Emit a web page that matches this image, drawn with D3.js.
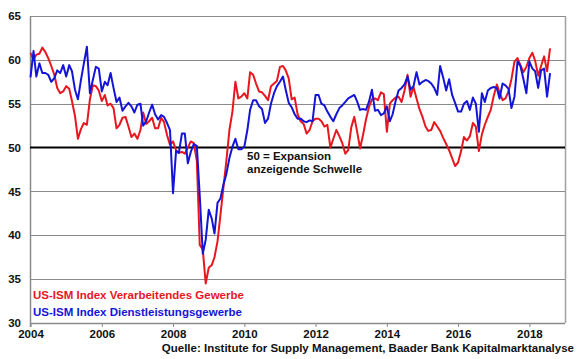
<!DOCTYPE html>
<html><head><meta charset="utf-8">
<script src="https://cdn.jsdelivr.net/npm/d3@7"></script>
<style>
body{margin:0;background:#fff}
text{font-family:"Liberation Sans",Arial,sans-serif;font-weight:bold}
</style>
</head><body>
<svg id="chart" width="580" height="359"></svg>
<script>
// ---- data (monthly, Jan 2004 - Aug 2018) ----
const startYear = 2004;
const manufacturing = [
60.8,60.0,60.6,60.7,61.4,60.9,60.2,59.3,58.3,56.8,56.2,56.4,
57.0,56.7,55.3,53.6,51.0,52.1,52.8,52.6,55.5,57.1,57.0,56.5,
55.3,56.0,54.8,55.0,54.5,52.2,52.6,53.4,53.5,52.4,51.2,51.6,
51.0,52.0,54.0,52.7,53.0,53.4,52.2,52.2,53.4,52.9,51.4,50.3,
50.7,49.7,49.4,49.5,49.3,50.0,50.7,50.5,48.5,38.9,38.4,34.5,
36.3,36.6,37.5,39.3,42.3,45.5,48.5,52.0,54.1,57.5,55.6,55.8,
56.2,55.6,58.6,58.3,57.3,56.4,56.3,55.9,55.4,57.0,57.3,57.6,
59.2,59.3,58.8,57.9,55.5,55.7,53.8,53.0,52.7,51.6,52.0,53.0,
53.3,53.3,53.0,52.4,52.6,50.0,51.0,52.0,51.3,50.5,49.3,49.7,
52.3,53.5,51.9,49.9,51.4,53.2,54.6,55.5,55.6,55.4,56.3,56.1,
51.8,55.0,55.4,55.7,55.8,55.2,56.5,58.3,55.8,56.9,55.6,54.4,
53.5,52.4,51.9,52.0,52.9,52.4,51.9,51.1,50.4,49.7,48.8,47.9,
48.3,49.6,51.2,50.8,51.3,52.8,52.4,49.6,51.5,52.6,53.5,54.3,
55.9,57.2,56.3,55.4,55.6,56.4,57.8,59.8,60.2,59.4,58.6,59.2,
60.2,60.8,59.9,58.2,59.3,60.4,58.7,61.3
];
const services = [
58.0,61.0,58.1,59.6,58.5,58.5,58.3,57.5,57.9,58.8,58.5,59.4,
58.1,59.4,58.7,56.6,55.5,57.7,59.6,61.5,56.2,57.7,59.2,59.0,
56.4,57.5,57.1,58.5,56.8,55.2,55.7,54.2,54.7,55.1,54.7,54.0,
54.9,55.0,52.5,53.0,54.0,54.9,53.8,53.2,53.7,53.5,52.8,52.0,
44.8,49.6,49.4,51.6,51.6,48.2,49.5,50.4,50.2,44.5,37.9,39.5,
42.9,41.9,40.2,43.7,44.2,45.8,47.0,48.8,50.1,51.0,49.8,49.8,
50.1,52.0,54.3,55.4,55.4,54.7,54.4,52.8,53.3,55.0,56.2,57.0,
57.5,58.1,56.6,55.1,54.6,53.8,53.3,53.3,53.0,52.9,53.1,53.0,
56.0,56.0,55.0,54.8,54.1,53.5,53.0,53.8,54.5,54.8,55.2,55.6,
55.8,56.0,55.3,54.3,54.4,54.3,55.2,56.6,54.2,54.3,53.7,53.9,
54.7,53.0,53.8,55.3,56.5,56.8,57.2,58.1,56.6,57.0,58.6,57.2,
57.5,57.7,57.6,57.3,56.8,56.0,59.3,58.0,56.5,57.8,56.0,55.1,
54.1,54.1,55.0,55.3,54.3,55.7,55.0,51.8,56.2,55.2,56.5,56.8,
56.9,56.8,55.6,57.3,57.1,56.7,54.5,55.8,59.8,59.3,57.8,56.2,
59.8,59.0,58.7,56.8,58.8,59.0,55.8,58.5
];
const yearTicks = [2004,2006,2008,2010,2012,2014,2016,2018];
const valueTicks = [30,35,40,45,50,55,60,65];
const seriesNames = ["US-ISM Index Verarbeitendes Gewerbe","US-ISM Index Dienstleistungsgewerbe"];
const thresholdLabel = ["50 = Expansion","anzeigende Schwelle"];
const sourceText = "Quelle: Institute for Supply Management, Baader Bank Kapitalmarktanalyse";

// ---- chart ----
const months = d3.timeMonth.range(new Date(startYear,0,1), new Date(startYear,manufacturing.length,1));
const L=30, R=565, T=16, B=323;
const x = d3.scaleTime().domain([new Date(startYear,0,1), new Date(2019,0,1)]).range([L+0.5,R]);
const y = d3.scaleLinear().domain([30,65]).range([B,T]);
const svg = d3.select("#chart");
const RED="#e8161e", BLUE="#1414d8", GRID="#8a8a8a";

// grid lines
svg.append("g").selectAll("line").data(valueTicks.filter(v=>v!==30 && v!==50)).join("line")
  .attr("x1",L).attr("x2",R).attr("y1",d=>Math.round(y(d))+0.5).attr("y2",d=>Math.round(y(d))+0.5)
  .attr("stroke",GRID).attr("stroke-width",1);
// frame
svg.append("line").attr("x1",L+0.5).attr("x2",L+0.5).attr("y1",T).attr("y2",B+4).attr("stroke",GRID).attr("stroke-width",1.5);
svg.append("line").attr("x1",R+0.5).attr("x2",R+0.5).attr("y1",T).attr("y2",B).attr("stroke","#a0a0a0").attr("stroke-width",1.5);

// y axis labels
const yAxis = svg.append("g").attr("transform",`translate(${L},0)`)
  .call(d3.axisLeft(y).tickValues(valueTicks).tickSize(0).tickPadding(9).tickFormat(d3.format("d")));
yAxis.select(".domain").remove();
yAxis.selectAll("text").attr("font-size",11.5).attr("fill","#111");

// x axis
const xAxis = svg.append("g").attr("transform",`translate(0,${B})`)
  .call(d3.axisBottom(x).tickValues(yearTicks.map(v=>new Date(v,0,1))).tickSize(4).tickPadding(3).tickFormat(d3.timeFormat("%Y")));
xAxis.select(".domain").attr("stroke",GRID).attr("stroke-width",1.5).attr("d",`M${L},0.5H${R}`);
xAxis.selectAll(".tick line").attr("stroke",GRID);
xAxis.selectAll("text").attr("font-size",11.5).attr("fill","#111");

// 50 threshold line
svg.append("line").attr("x1",L).attr("x2",R).attr("y1",y(50)).attr("y2",y(50)).attr("stroke","#000").attr("stroke-width",2);

// series
const line = d3.line().x((d,i)=>x(months[i])).y(d=>y(d));
svg.append("path").datum(manufacturing).attr("d",line).attr("fill","none").attr("stroke",RED).attr("stroke-width",2).attr("stroke-linejoin","round");
svg.append("path").datum(services).attr("d",line).attr("fill","none").attr("stroke",BLUE).attr("stroke-width",2).attr("stroke-linejoin","round");

// threshold label
svg.append("text").attr("x",247).attr("y",160).attr("font-size",11.5).attr("fill","#111").text(thresholdLabel[0]);
svg.append("text").attr("x",247).attr("y",173).attr("font-size",11.5).attr("fill","#111").text(thresholdLabel[1]);

// legend
svg.append("text").attr("x",33).attr("y",299).attr("font-size",11.5).attr("fill",RED).text(seriesNames[0]);
svg.append("text").attr("x",33).attr("y",316).attr("font-size",11.5).attr("fill",BLUE).text(seriesNames[1]);

// source
svg.append("text").attr("x",574).attr("y",352).attr("text-anchor","end").attr("font-size",11.5).attr("fill","#111").text(sourceText);
</script>
</body></html>
